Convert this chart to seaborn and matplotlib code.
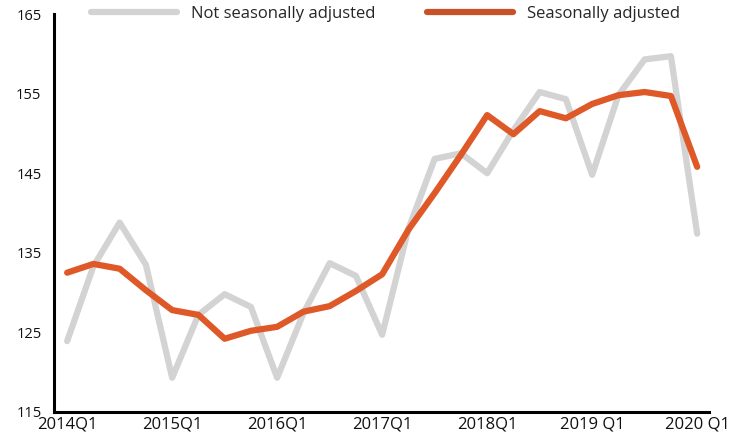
import numpy as np
import pandas as pd
import matplotlib
matplotlib.use("Agg")
import matplotlib.pyplot as plt
import seaborn as sns

# Quarterly index values, 2014Q1 .. 2020Q1
quarters = [f"{y}Q{q}" for y in range(2014, 2021) for q in range(1, 5)][:25]
not_sa = [123.9, 133.3, 138.8, 133.5, 119.3, 127.2, 129.8, 128.2, 119.3, 127.4,
          133.7, 132.1, 124.7, 138.0, 146.8, 147.5, 145.0, 150.4, 155.2, 154.3,
          144.8, 154.8, 159.3, 159.7, 137.4]
sa = [132.5, 133.6, 133.0, 130.3, 127.8, 127.2, 124.2, 125.2, 125.7, 127.6,
      128.3, 130.2, 132.3, 137.9, 142.5, 147.3, 152.3, 149.9, 152.8, 151.9,
      153.7, 154.8, 155.2, 154.7, 145.8]
tick_labels = ["2014Q1", "2015Q1", "2016Q1", "2017Q1", "2018Q1", "2019 Q1", "2020 Q1"]
y_ticks = [115, 125, 135, 145, 155, 165]

df = pd.DataFrame({"idx": np.arange(len(quarters)), "quarter": quarters,
                   "Not seasonally adjusted": not_sa, "Seasonally adjusted": sa})
long = df.melt(id_vars=["idx", "quarter"], var_name="series", value_name="value")

sns.set_style("white")
plt.rcParams["font.family"] = ["Open Sans", "DejaVu Sans"]

fig = plt.figure(figsize=(7.42, 4.38), dpi=100)
ax = fig.add_axes([0.0728, 0.0594, 0.8827, 0.9086])

palette = {"Not seasonally adjusted": "#d3d3d3", "Seasonally adjusted": "#df5827"}
sns.lineplot(data=long, x="idx", y="value", hue="series", palette=palette,
             linewidth=4.5, ax=ax, legend=False)

ax.set_xlim(-0.5, 24.45)
ax.set_ylim(115, 165)
ax.set_yticks(y_ticks)
ax.set_yticklabels([str(v) for v in y_ticks])
ax.set_xticks(np.arange(0, 25, 4))
ax.set_xticklabels(tick_labels)
ax.tick_params(axis="both", length=0, colors="#111111")
ax.tick_params(axis="y", pad=9, labelsize=10.5)
ax.tick_params(axis="x", pad=3, labelsize=12)
ax.set_xlabel("")
ax.set_ylabel("")

for s in ["top", "right"]:
    ax.spines[s].set_visible(False)
for s in ["left", "bottom"]:
    ax.spines[s].set_color("black")
    ax.spines[s].set_linewidth(2.2)

# legend drawn in figure coords at the top
handles = [plt.Line2D([], [], color="#d3d3d3", lw=4.5, solid_capstyle="round"),
           plt.Line2D([], [], color="#c9512a", lw=4.5, solid_capstyle="round")]
leg = fig.legend(handles, ["Not seasonally adjusted", "Seasonally adjusted"],
                 loc="center", bbox_to_anchor=(0.519, 0.968), ncol=2, frameon=False,
                 fontsize=12, handlelength=5.2, columnspacing=3.1, handletextpad=0.8)

fig.savefig("out.png", dpi=100)
